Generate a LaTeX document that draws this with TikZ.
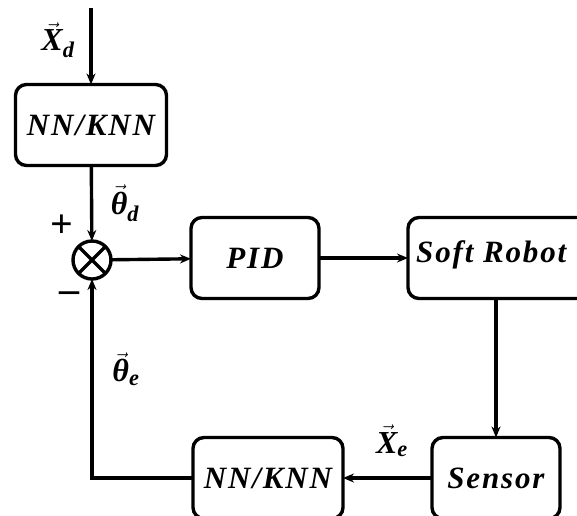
\documentclass[tikz,border=0pt]{standalone}
\usepackage{amsmath,amssymb}
\usepackage{fontspec}
\setmainfont{Liberation Serif}
\usetikzlibrary{arrows.meta,positioning,calc}

% bold italic signal name with an arrow on top
\newcommand{\sigvec}[2]{$\vec{\text{\bfseries\itshape #1}}_{\text{\bfseries\itshape #2}}$}
\newcommand{\blkfont}{\fontsize{31}{33}\selectfont\bfseries\itshape\addfontfeatures{LetterSpace=6}}

\begin{document}
\begin{tikzpicture}[
  x=1pt, y=-1pt,
  >={Stealth[length=11pt,width=9pt]},
  blk/.style={draw, line width=3.4pt, rounded corners=11pt, fill=white,
              minimum height=81pt, inner sep=0pt, outer sep=0pt,
              font=\blkfont},
  sumnode/.style={circle, draw, line width=3.4pt, minimum size=38pt,
                  inner sep=0pt, outer sep=0pt},
  sig/.style={->, line width=3.4pt},
  lbl/.style={font=\fontsize{32}{34}\selectfont, inner sep=0pt},
]
  \clip (0,0) rectangle (577,515);
  \useasboundingbox (0,0) rectangle (577,515);

  % forward path
  \node[blk, minimum width=151pt] (nnin)   at ( 91,125) {NN/KNN};
  \node[sumnode]                  (sum)    at ( 92,260) {};
  \node[blk, minimum width=128pt] (pid)    at (255,258) {PID};
  \node[blk, minimum width=190pt] (robot)  at (503,258) {};
  \node[font=\blkfont, inner sep=0pt, anchor=west] (robottxt) at (416,255) {Soft Robot};

  % feedback path
  \node[blk, minimum width=128pt] (sensor) at (496,478) {Sensor};
  \node[blk, minimum width=150pt] (nnfb)   at (268,478) {NN/KNN};

  \coordinate (xin) at (91,8);

  % cross inside the summing junction
  \draw[line width=3.4pt] (sum.45) -- (sum.225) (sum.135) -- (sum.315);

  % signals
  \draw[sig] (xin) -- (nnin);
  \draw[sig] (nnin) -- (sum);
  \draw[sig] (sum) -- (pid);
  \draw[sig] (pid) -- (robot);
  \draw[sig] (robot.south -| sensor) -- (sensor);
  \draw[sig] (sensor) -- (nnfb);
  \draw[sig] (nnfb.west) -| (sum.south);

  % signal labels
  \node[lbl] (xd)  at ( 58, 40) {\sigvec{X}{d}};
  \node[lbl] (thd) at (125,203) {\sigvec{θ}{d}};
  \node[lbl] (the) at (126,369) {\sigvec{θ}{e}};
  \node[lbl] (xe)  at (392,441) {\sigvec{X}{e}};
  \node[lbl, font=\fontsize{40}{42}\selectfont\bfseries] (plus)  at (62,226) {+};
  \node[lbl, font=\fontsize{40}{42}\selectfont\bfseries] (minus) at (69,297) {–};
\end{tikzpicture}
\end{document}
